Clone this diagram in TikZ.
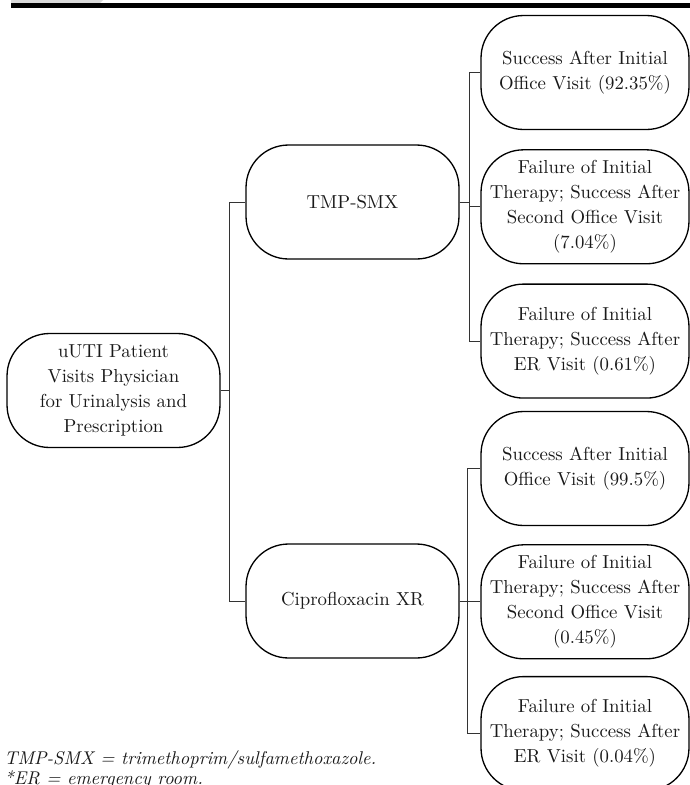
\documentclass[tikz,border=0pt]{standalone}
\usetikzlibrary{positioning}
\begin{document}
\begin{tikzpicture}[x=0.02cm, y=-0.02cm,
    box/.style={draw, line width=0.75pt, rounded corners=0.85cm, align=center,
        minimum width=4.26cm, minimum height=2.28cm, inner sep=0pt,
        text=black!90, font=\fontsize{10.7}{14.2}\selectfont},
    leaf/.style={box, minimum width=4.16cm},
    link/.style={draw=black!80, line width=0.5pt},
    note/.style={anchor=base west, inner sep=0pt, text=black!90,
        font=\fontsize{10.5}{11.4}\selectfont\itshape}]
    \useasboundingbox (0,0) rectangle (690,785);
    \fill[black!15] (11,0) -- (103,0) -- (100,3) -- (11,3) -- cycle;
    \fill (11,3) rectangle (690,8);
    \node[box] (root) at (113.5,390.5) {uUTI Patient\\Visits Physician\\for Urinalysis and\\Prescription};
    \node[box] (tmp) at (352.5,202) {TMP-SMX};
    \node[box] (cip) at (352.5,601) {Ciprofloxacin XR};
    \node[leaf] (l1) at (585,72.5) {Success After Initial\\Office Visit (92.35\%)};
    \node[leaf, below = 0.38cm of l1] (l2) {Failure of Initial\\Therapy; Success After\\Second Office Visit\\(7.04\%)};
    \node[leaf, below = 0.38cm of l2] (l3) {Failure of Initial\\Therapy; Success After\\ER Visit (0.61\%)};
    \node[leaf] (l4) at (585,468.5) {Success After Initial\\Office Visit (99.5\%)};
    \node[leaf, below = 0.36cm of l4] (l5) {Failure of Initial\\Therapy; Success After\\Second Office Visit\\(0.45\%)};
    \node[leaf, below = 0.33cm of l5] (l6) {Failure of Initial\\Therapy; Success After\\ER Visit (0.04\%)};
    \draw[link] (root.east) -- ++(9,0) |- (tmp.west);
    \draw[link] (root.east) -- ++(9,0) |- (cip.west);
    \foreach \leafnode in {l1,l2,l3}
        \draw[link] (tmp.east) -- ++(10,0) |- (\leafnode.west);
    \foreach \leafnode in {l4,l5,l6}
        \draw[link] (cip.east) -- ++(8,0) |- (\leafnode.west);
    \node[note] (fn1) at (4,764) {TMP-SMX = trimethoprim/sulfamethoxazole.};
    \node[note] (fn2) at (4,784) {*ER = emergency room.};
\end{tikzpicture}
\end{document}
